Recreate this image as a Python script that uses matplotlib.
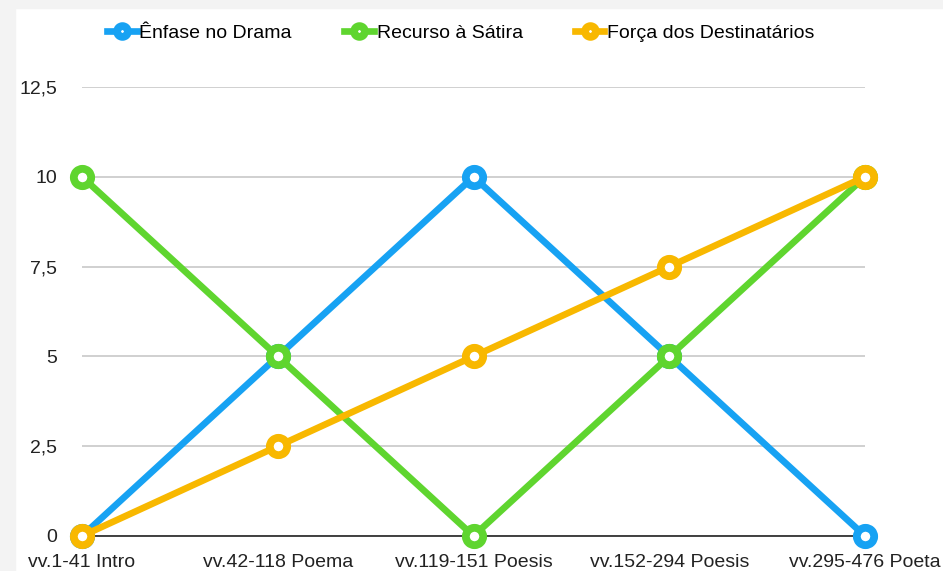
import matplotlib.pyplot as plt
from matplotlib.patches import Rectangle

plt.rcParams['font.family'] = ['Liberation Sans', 'DejaVu Sans']

# Data
categories = ['vv.1-41 Intro', 'vv.42-118 Poema', 'vv.119-151 Poesis',
              'vv.152-294 Poesis', 'vv.295-476 Poeta']
enfase_drama = [0, 5, 10, 5, 0]
recurso_satira = [10, 5, 0, 5, 10]
forca_destinatarios = [0, 2.5, 5, 7.5, 10]
y_ticks = [0, 2.5, 5, 7.5, 10, 12.5]
y_labels = ['0', '2,5', '5', '7,5', '10', '12,5']

series = [
    ('Ênfase no Drama', enfase_drama, '#17a2f3'),
    ('Recurso à Sátira', recurso_satira, '#5fd52f'),
    ('Força dos Destinatários', forca_destinatarios, '#f8b800'),
]

W, H = 943, 571
fig = plt.figure(figsize=(W / 100, H / 100), dpi=100)

# light gray frame strips at left and top
fig.patches.append(Rectangle((0, 0), 15 / W, 1, transform=fig.transFigure,
                             color='#f3f3f3', zorder=0))
fig.patches.append(Rectangle((0, 1 - 8 / H), 1, 8 / H, transform=fig.transFigure,
                             color='#f3f3f3', zorder=0))

ax = fig.add_axes([82 / W, 35 / H, (865 - 82) / W, (536 - 87) / H])
ax.set_facecolor('none')

x = list(range(len(categories)))
for i, (name, vals, col) in enumerate(series):
    ax.plot(x, vals, color=col, lw=4.8, marker='o', ms=12.5, mew=5.6,
            mfc='white', mec=col, label=name, clip_on=False, zorder=3 + i)

ax.set_xlim(0, len(categories) - 1)
ax.set_ylim(0, 12.5)
ax.set_yticks(y_ticks)
ax.set_yticklabels(y_labels)
ax.set_xticks(x)
ax.set_xticklabels(categories)
ax.grid(axis='y', color='#c8c8c8', lw=1.2)
ax.set_axisbelow(True)
for s in ['top', 'right', 'left']:
    ax.spines[s].set_visible(False)
ax.spines['bottom'].set_color('#333333')
ax.spines['bottom'].set_linewidth(1.3)
ax.spines['bottom'].set_zorder(2)
ax.tick_params(axis='both', length=0, labelsize=14, colors='#222222')
ax.tick_params(axis='y', pad=18)
ax.tick_params(axis='x', pad=13)

fig.legend(loc='center', bbox_to_anchor=(461 / W, 1 - 33 / H), ncol=3,
           frameon=False, fontsize=14, handlelength=1.5, handletextpad=0.15,
           columnspacing=2.7, markerscale=0.62)

fig.savefig('out.png', dpi=100)
